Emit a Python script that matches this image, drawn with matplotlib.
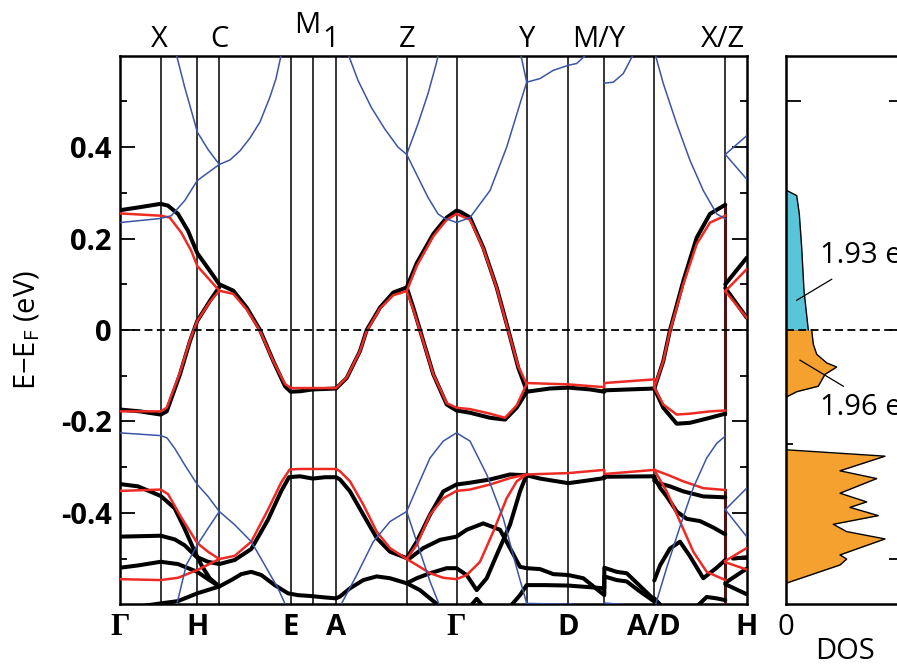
import matplotlib
matplotlib.use("Agg")
import matplotlib.pyplot as plt
from matplotlib.ticker import FixedLocator

plt.rcParams['font.family'] = ['Open Sans', 'DejaVu Sans']
plt.rcParams['mathtext.default'] = 'regular'

# ---------------- k-path ----------------
k_lines = [0.407, 0.773, 0.993, 1.707, 1.927, 2.16, 2.867, 3.365, 4.067, 4.483, 4.843, 5.343, 6.053]
k_end = 6.267
bottom_labels = ['Γ', 'H', 'E', 'A', 'Γ', 'D', 'A/D', 'H']
bottom_pos = [0.0, 0.773, 1.707, 2.16, 3.365, 4.483, 5.343, 6.267]
top_labels = ['X', 'C', 'Z', 'Y', 'M/Y', 'X/Z']
top_pos = [0.39, 0.993, 2.867, 4.067, 4.79, 6.025]
m1_pos = [1.875, 2.105]
ytick_vals = [-0.4, -0.2, 0.0, 0.2, 0.4]
ytick_text = ['-0.4', '-0.2', '0', '0.2', '0.4']
yminor_vals = [-0.5, -0.3, -0.1, 0.1, 0.3, 0.5]

# ---------------- black bands ----------------
k_b1 = [0, 0.18, 0.407, 0.48, 0.58, 0.68, 0.773, 0.90, 0.993, 1.133, 1.267, 1.40, 1.533, 1.65, 1.707, 1.80, 1.927, 2.05, 2.16,
        2.267, 2.40, 2.467, 2.60, 2.733, 2.867, 2.967, 3.133, 3.267, 3.365, 3.40, 3.50, 3.633, 3.767, 3.883, 3.983, 4.067]
e_b1 = [0.262, 0.268, 0.276, 0.272, 0.254, 0.217, 0.168, 0.129, 0.100, 0.086, 0.049, 0.0, -0.068, -0.123, -0.135, -0.134, -0.130, -0.129, -0.128,
        -0.105, -0.046, 0.0, 0.049, 0.082, 0.093, 0.146, 0.210, 0.246, 0.261, 0.259, 0.246, 0.180, 0.093, 0.0, -0.083, -0.132]
k_b2 = [0, 0.20, 0.407, 0.467, 0.60, 0.70, 0.773, 0.90, 0.993]
e_b2 = [-0.174, -0.178, -0.185, -0.178, -0.097, -0.024, 0.020, 0.064, 0.094]
k_b3 = [2.867, 2.933, 3.0, 3.133, 3.267, 3.365, 3.50, 3.70, 3.85, 3.967, 4.067]
e_b3 = [0.093, 0.049, 0.0, -0.097, -0.163, -0.176, -0.181, -0.192, -0.196, -0.170, -0.135]
k_b4 = [4.067, 4.30, 4.483, 4.70, 4.843, 4.843, 5.343]
e_b4 = [-0.135, -0.128, -0.126, -0.130, -0.135, -0.132, -0.128]
k_b5 = [5.343, 5.433, 5.50, 5.633, 5.767, 5.90, 6.053]
e_b5 = [-0.128, -0.068, 0.0, 0.107, 0.202, 0.254, 0.274]
k_b6 = [5.343, 5.433, 5.567, 5.70, 5.90, 6.053]
e_b6 = [-0.128, -0.170, -0.205, -0.203, -0.192, -0.183]
k_b7 = [6.053, 6.267]
e_b7 = [0.100, 0.158]
k_b8 = [6.053, 6.267]
e_b8 = [0.092, 0.027]
k_b9 = [0, 0.18, 0.407, 0.547, 0.647, 0.74, 0.813, 0.897, 0.993, 1.113, 1.213, 1.313, 1.413, 1.547, 1.68, 1.78, 1.913, 2.05, 2.16,
        2.2, 2.3, 2.433, 2.567, 2.7, 2.867, 2.967, 3.1, 3.267, 3.365, 3.467, 3.567, 3.667, 3.767, 3.9, 4.0, 4.067]
e_b9 = [-0.337, -0.342, -0.363, -0.390, -0.435, -0.481, -0.514, -0.543, -0.561, -0.547, -0.534, -0.529, -0.536, -0.558, -0.576, -0.580, -0.582, -0.585, -0.587,
        -0.583, -0.565, -0.547, -0.539, -0.543, -0.554, -0.543, -0.532, -0.521, -0.521, -0.536, -0.569, -0.543, -0.492, -0.426, -0.353, -0.316]
k_b10 = [0, 0.407, 0.547, 0.647, 0.763, 0.88, 0.993, 1.147, 1.313, 1.48, 1.613, 1.69, 1.80, 1.927, 2.05, 2.16,
         2.2, 2.3, 2.433, 2.567, 2.7, 2.867, 2.967, 3.1, 3.233, 3.365, 3.5, 3.7, 3.9, 4.067]
e_b10 = [-0.452, -0.450, -0.458, -0.471, -0.496, -0.507, -0.512, -0.503, -0.479, -0.415, -0.352, -0.322, -0.320, -0.325, -0.322, -0.322,
         -0.327, -0.353, -0.404, -0.455, -0.485, -0.499, -0.463, -0.404, -0.353, -0.338, -0.334, -0.327, -0.316, -0.318]
k_b11 = [0, 0.18, 0.407, 0.58, 0.773, 0.88, 0.993]
e_b11 = [-0.520, -0.515, -0.507, -0.512, -0.529, -0.545, -0.561]
k_b12 = [0.20, 0.247, 0.407, 0.58, 0.773, 0.993]
e_b12 = [-0.606, -0.603, -0.598, -0.593, -0.576, -0.561]
k_b13 = [2.867, 2.9, 3.033, 3.2, 3.365, 3.467, 3.633, 3.8, 3.9, 4.0, 4.067, 4.2, 4.333, 4.483, 4.633, 4.843, 4.843, 4.967, 5.067, 5.2, 5.343]
e_b13 = [-0.499, -0.499, -0.477, -0.459, -0.452, -0.437, -0.423, -0.437, -0.477, -0.518, -0.521, -0.523, -0.534, -0.536, -0.543, -0.580, -0.520, -0.529, -0.532, -0.560, -0.590]
k_b14 = [3.9, 4.0, 4.067, 4.25, 4.483, 4.843, 4.843, 4.967, 5.067, 5.2, 5.343]
e_b14 = [-0.605, -0.580, -0.558, -0.558, -0.559, -0.565, -0.539, -0.547, -0.550, -0.572, -0.594]
k_b15 = [2.867, 3.0, 3.1, 3.2]
e_b15 = [-0.554, -0.569, -0.587, -0.605]
k_b16 = [3.5, 3.567, 3.633]
e_b16 = [-0.605, -0.588, -0.605]
k_b17 = [5.343, 5.343, 5.383, 5.5, 5.633, 5.833, 6.053]
e_b17 = [-0.320, -0.330, -0.335, -0.342, -0.353, -0.364, -0.366]
k_b18 = [5.343, 5.40, 5.467, 5.567, 5.667, 5.8, 5.933, 6.053]
e_b18 = [-0.322, -0.345, -0.364, -0.397, -0.413, -0.418, -0.432, -0.447]
k_b19 = [5.343, 5.40, 5.5, 5.6, 5.7, 5.833, 5.967, 6.053]
e_b19 = [-0.548, -0.515, -0.478, -0.463, -0.495, -0.543, -0.520, -0.503]
k_b20 = [5.767, 5.867, 5.967, 6.053]
e_b20 = [-0.605, -0.584, -0.587, -0.591]
k_b21 = [5.343, 5.42]
e_b21 = [-0.587, -0.605]
k_b22 = [6.053, 6.267]
e_b22 = [-0.553, -0.522]
k_b23 = [6.053, 6.267]
e_b23 = [-0.556, -0.578]
k_b24 = [6.13, 6.267]
e_b24 = [-0.500, -0.497]
k_b25 = [4.067, 4.2, 4.483, 4.65, 4.843, 4.843, 5.343]
e_b25 = [-0.318, -0.325, -0.335, -0.330, -0.324, -0.321, -0.320]

# ---------------- red bands ----------------
k_r1 = [0, 0.407, 0.497, 0.613, 0.713, 0.773, 0.993, 1.133, 1.267, 1.40, 1.533, 1.65, 1.707, 1.927, 2.16,
        2.267, 2.40, 2.467, 2.60, 2.733, 2.867, 2.967, 3.133, 3.267, 3.365, 3.50, 3.633, 3.767, 3.883, 3.983, 4.067]
e_r1 = [0.255, 0.250, 0.246, 0.213, 0.173, 0.140, 0.086, 0.079, 0.045, -0.002, -0.068, -0.118, -0.127, -0.127, -0.127,
        -0.104, -0.046, -0.002, 0.047, 0.076, 0.085, 0.140, 0.205, 0.241, 0.254, 0.241, 0.178, 0.092, -0.002, -0.080, -0.118]
k_r2 = [0, 0.407, 0.467, 0.60, 0.70, 0.773, 0.90, 0.993]
e_r2 = [-0.178, -0.178, -0.170, -0.093, -0.022, 0.020, 0.062, 0.086]
k_r3 = [2.867, 2.933, 3.0, 3.133, 3.267, 3.365, 3.5, 3.7, 3.85, 3.967, 4.067]
e_r3 = [0.085, 0.045, -0.002, -0.097, -0.160, -0.170, -0.173, -0.183, -0.192, -0.165, -0.118]
k_r4 = [4.067, 4.483, 4.843, 4.843, 5.343, 5.343]
e_r4 = [-0.116, -0.119, -0.125, -0.116, -0.108, -0.126]
k_r5 = [5.343, 5.433, 5.5, 5.633, 5.767, 5.9, 6.053]
e_r5 = [-0.126, -0.068, -0.002, 0.100, 0.188, 0.235, 0.250]
k_r6 = [5.343, 5.433, 5.567, 5.7, 5.9, 6.053]
e_r6 = [-0.126, -0.163, -0.185, -0.183, -0.178, -0.176]
k_r7 = [6.053, 6.267]
e_r7 = [0.085, 0.133]
k_r8 = [6.053, 6.267]
e_r8 = [0.085, 0.027]
k_r9 = [0, 0.407, 0.48, 0.613, 0.773, 0.88, 0.993, 1.147, 1.313, 1.48, 1.613, 1.697, 1.80, 2.16,
        2.2, 2.3, 2.433, 2.567, 2.7, 2.867, 2.967, 3.1, 3.233, 3.365, 3.5, 3.7, 3.9, 4.067]
e_r9 = [-0.352, -0.349, -0.359, -0.410, -0.466, -0.485, -0.501, -0.494, -0.463, -0.393, -0.333, -0.305, -0.304, -0.304,
        -0.309, -0.331, -0.382, -0.441, -0.477, -0.501, -0.470, -0.404, -0.368, -0.352, -0.349, -0.338, -0.324, -0.316]
k_r10 = [0, 0.407, 0.58, 0.773, 0.993]
e_r10 = [-0.545, -0.547, -0.542, -0.525, -0.501]
k_r11 = [2.867, 2.967, 3.1, 3.233, 3.365, 3.467, 3.6, 3.733, 3.867, 3.967, 4.067]
e_r11 = [-0.501, -0.514, -0.532, -0.542, -0.545, -0.536, -0.507, -0.441, -0.368, -0.331, -0.316]
k_r12 = [4.067, 4.483, 4.843, 4.843, 5.343]
e_r12 = [-0.316, -0.313, -0.306, -0.315, -0.306]
k_r13 = [5.343, 5.467, 5.633, 5.833, 6.053]
e_r13 = [-0.306, -0.316, -0.331, -0.346, -0.350]
k_r14 = [5.343, 5.467, 5.6, 5.733, 5.867, 6.053]
e_r14 = [-0.306, -0.353, -0.419, -0.485, -0.529, -0.547]
k_r15 = [6.053, 6.267]
e_r15 = [-0.505, -0.477]
k_r16 = [6.053, 6.267]
e_r16 = [-0.508, -0.524]

# ---------------- blue bands ----------------
k_u1 = [0.555, 0.647, 0.713, 0.773, 0.88, 0.993, 1.1, 1.2, 1.3, 1.4, 1.5, 1.56, 1.62]
e_u1 = [0.61, 0.531, 0.480, 0.433, 0.395, 0.362, 0.372, 0.392, 0.42, 0.455, 0.51, 0.55, 0.61]
k_u2 = [0, 0.407, 0.513, 0.647, 0.773, 0.993]
e_u2 = [0.235, 0.244, 0.25, 0.283, 0.327, 0.362]
k_u3 = [2.27, 2.38, 2.513, 2.647, 2.78, 2.867, 2.98, 3.08, 3.163, 3.19]
e_u3 = [0.61, 0.546, 0.487, 0.440, 0.40, 0.384, 0.451, 0.517, 0.583, 0.61]
k_u4 = [2.867, 2.98, 3.08, 3.18, 3.233, 3.365, 3.5, 3.7, 3.867, 4.0, 4.067]
e_u4 = [0.384, 0.334, 0.290, 0.254, 0.246, 0.235, 0.246, 0.305, 0.40, 0.495, 0.542]
k_u5 = [4.0, 4.067]
e_u5 = [0.61, 0.542]
k_u6 = [4.067, 4.2, 4.333, 4.483, 4.567, 4.70]
e_u6 = [0.542, 0.55, 0.568, 0.579, 0.583, 0.61]
k_u7 = [4.843, 4.933, 5.033, 5.15]
e_u7 = [0.54, 0.542, 0.561, 0.61]
k_u8 = [5.343, 5.433, 5.567, 5.70, 5.833, 5.967, 6.053]
e_u8 = [0.61, 0.539, 0.451, 0.371, 0.305, 0.254, 0.243]
k_u9 = [6.053, 6.267]
e_u9 = [0.384, 0.425]
k_u10 = [6.053, 6.267]
e_u10 = [0.384, 0.330]
k_u11 = [0, 0.407, 0.47, 0.55, 0.647, 0.773, 0.88, 0.993, 1.147, 1.313, 1.447, 1.58, 1.663]
e_u11 = [-0.225, -0.231, -0.236, -0.26, -0.295, -0.338, -0.364, -0.397, -0.426, -0.463, -0.514, -0.565, -0.605]
k_u12 = [0.563, 0.663, 0.773, 0.88, 0.993]
e_u12 = [-0.605, -0.514, -0.470, -0.434, -0.397]
k_u13 = [2.2, 2.367, 2.533, 2.7, 2.867, 2.967, 3.1, 3.233, 3.365, 3.5, 3.667, 3.833, 3.967, 4.067]
e_u13 = [-0.605, -0.536, -0.463, -0.419, -0.397, -0.346, -0.280, -0.243, -0.225, -0.243, -0.316, -0.412, -0.521, -0.598]
k_u14 = [2.867, 2.967, 3.1, 3.2]
e_u14 = [-0.397, -0.463, -0.55, -0.605]
k_u15 = [4.067, 4.483, 4.843]
e_u15 = [-0.598, -0.600, -0.603]
k_u16 = [4.843, 5.17]
e_u16 = [-0.597, -0.603]
k_u17 = [5.35, 5.467, 5.6, 5.733, 5.867, 5.967, 6.053]
e_u17 = [-0.605, -0.52, -0.43, -0.345, -0.28, -0.248, -0.232]
k_u18 = [6.053, 6.267]
e_u18 = [-0.393, -0.346]
k_u19 = [6.053, 6.267]
e_u19 = [-0.393, -0.452]

# ---------------- DOS ----------------
dos_e_cyan = [0.306, 0.294, 0.254, 0.180, 0.086, 0.0]
dos_cyan = [0.0, 0.107, 0.133, 0.157, 0.180, 0.223]
dos_e_orange = [0.0, -0.031, -0.053, -0.072, -0.081, -0.097, -0.123, -0.135, -0.147, -0.262, -0.276, -0.308, -0.325,
                -0.357, -0.376, -0.388, -0.406, -0.425, -0.441, -0.457, -0.492, -0.501, -0.514, -0.554]
dos_orange = [0.257, 0.273, 0.307, 0.407, 0.507, 0.39, 0.323, 0.107, 0.0, 0.0, 0.99, 0.54, 0.907,
              0.54, 0.807, 0.64, 0.923, 0.473, 0.607, 0.99, 0.54, 0.607, 0.54, 0.0]
ann_texts = ['1.93 e', '1.96 e']
ann_line_x = [[0.107, 0.457], [0.14, 0.573]]
ann_line_e = [[0.065, 0.111], [-0.066, -0.123]]
ann_text_pos = [(0.34, 0.164), (0.34, -0.170)]

black_bands = [(k_b1, e_b1), (k_b2, e_b2), (k_b3, e_b3), (k_b4, e_b4), (k_b5, e_b5), (k_b6, e_b6), (k_b7, e_b7),
               (k_b8, e_b8), (k_b9, e_b9), (k_b10, e_b10), (k_b11, e_b11), (k_b12, e_b12), (k_b13, e_b13),
               (k_b14, e_b14), (k_b15, e_b15), (k_b16, e_b16), (k_b17, e_b17), (k_b18, e_b18), (k_b19, e_b19),
               (k_b20, e_b20), (k_b21, e_b21), (k_b22, e_b22), (k_b23, e_b23), (k_b24, e_b24), (k_b25, e_b25)]
red_bands = [(k_r1, e_r1), (k_r2, e_r2), (k_r3, e_r3), (k_r4, e_r4), (k_r5, e_r5), (k_r6, e_r6), (k_r7, e_r7),
             (k_r8, e_r8), (k_r9, e_r9), (k_r10, e_r10), (k_r11, e_r11), (k_r12, e_r12), (k_r13, e_r13),
             (k_r14, e_r14), (k_r15, e_r15), (k_r16, e_r16)]
blue_bands = [(k_u1, e_u1), (k_u2, e_u2), (k_u3, e_u3), (k_u4, e_u4), (k_u5, e_u5), (k_u6, e_u6), (k_u7, e_u7),
              (k_u8, e_u8), (k_u9, e_u9), (k_u10, e_u10), (k_u11, e_u11), (k_u12, e_u12), (k_u13, e_u13),
              (k_u14, e_u14), (k_u15, e_u15), (k_u16, e_u16), (k_u17, e_u17), (k_u18, e_u18), (k_u19, e_u19)]

RED = '#ee2a24'
BLUE = '#3b55a6'
CYAN = '#58c6d8'
ORANGE = '#f5a12f'
FS = 21

fig = plt.figure(figsize=(8.97, 6.68), dpi=100)
ax = fig.add_axes([120 / 897, (668 - 604.3) / 668, 626.7 / 897, 548.6 / 668])
ax.set_xlim(0, k_end)
ax.set_ylim(-0.6, 0.6)

for kx in k_lines:
    ax.axvline(kx, color='k', lw=1.1, zorder=1)
# dark jump segments at X/Z
ax.plot([6.053, 6.053], [0.274, -0.183], color='#4a1414', lw=2.2, zorder=3)
ax.plot([6.053, 6.053], [-0.349, -0.600], color='#4a1414', lw=2.2, zorder=3)

ax.axhline(0, color='k', lw=1.3, ls=(0, (4.4, 2.4)), zorder=6)

for k, e in black_bands:
    ax.plot(k, e, color='k', lw=2.9, zorder=3, solid_joinstyle='round', solid_capstyle='round')
for k, e in red_bands:
    ax.plot(k, e, color=RED, lw=1.8, zorder=4, solid_joinstyle='round')
for k, e in blue_bands:
    ax.plot(k, e, color=BLUE, lw=1.1, zorder=5, solid_joinstyle='round')

for s in ax.spines.values():
    s.set_linewidth(1.8)

ax.set_yticks(ytick_vals)
ax.set_yticklabels(ytick_text, fontsize=FS, fontweight='bold')
ax.yaxis.set_minor_locator(FixedLocator(yminor_vals))
ax.tick_params(axis='y', which='major', direction='in', length=10.8, width=1.3, left=True, right=True, pad=6)
ax.tick_params(axis='y', which='minor', direction='in', length=5.0, width=1.3, left=True, right=True)
ax.set_xticks(bottom_pos)
ax.set_xticklabels(bottom_labels, fontsize=FS, fontweight='bold')
ax.tick_params(axis='x', which='both', length=0, pad=6)
for lab in ax.get_xticklabels():
    if lab.get_text() == 'Γ':
        lab.set_fontfamily('Liberation Serif')
        lab.set_fontsize(FS + 1)

for lbl, pos in zip(top_labels, top_pos):
    ax.annotate(lbl, xy=(pos, 1), xycoords=('data', 'axes fraction'), xytext=(0, 6.5),
                textcoords='offset points', ha='center', va='baseline', fontsize=FS)
ax.annotate('M', xy=(m1_pos[0], 1), xycoords=('data', 'axes fraction'), xytext=(0, 16),
            textcoords='offset points', ha='center', va='baseline', fontsize=FS)
ax.annotate('1', xy=(m1_pos[1], 1), xycoords=('data', 'axes fraction'), xytext=(0, 6.5),
            textcoords='offset points', ha='center', va='baseline', fontsize=FS)

fig.text(27 / 897, 1 - 330 / 668, 'E\u2212E$_\\mathregular{F}$ (eV)', rotation=90, ha='center', va='center', fontsize=FS)

# ---------------- DOS panel ----------------
ax2 = fig.add_axes([786 / 897, (668 - 604.3) / 668, (904 - 786) / 897, 548.6 / 668])
ax2.set_xlim(0, 1.18)
ax2.set_ylim(-0.6, 0.6)
ax2.fill_betweenx(dos_e_cyan, 0, dos_cyan, color=CYAN, lw=0, zorder=2)
ax2.fill_betweenx(dos_e_orange, 0, dos_orange, color=ORANGE, lw=0, zorder=2)
ax2.plot(dos_cyan, dos_e_cyan, color='k', lw=1.0, zorder=3)
ax2.plot(dos_orange, dos_e_orange, color='k', lw=1.0, zorder=3)
ax2.axhline(0, color='k', lw=1.3, ls=(0, (4.4, 2.4)), zorder=6)
for t, lx, le, tp in zip(ann_texts, ann_line_x, ann_line_e, ann_text_pos):
    ax2.plot(lx, le, color='k', lw=0.9, zorder=5)
    ax2.text(tp[0], tp[1], t, ha='left', va='center', fontsize=FS, clip_on=False, zorder=7)
for s in ax2.spines.values():
    s.set_linewidth(1.8)
ax2.set_yticks([-0.5, 0.0, 0.5])
ax2.set_yticklabels([])
ax2.yaxis.set_minor_locator(FixedLocator([-0.25, 0.25]))
ax2.tick_params(axis='y', which='major', direction='in', length=10.8, width=1.3, left=True, right=True)
ax2.tick_params(axis='y', which='minor', direction='in', length=5.0, width=1.3, left=True, right=True)
ax2.set_xticks([0])
ax2.set_xticklabels(['0'], fontsize=FS)
ax2.tick_params(axis='x', length=0, pad=6)
ax2.set_xlabel('DOS', fontsize=FS, labelpad=-3)

fig.savefig('out.png', dpi=100)
